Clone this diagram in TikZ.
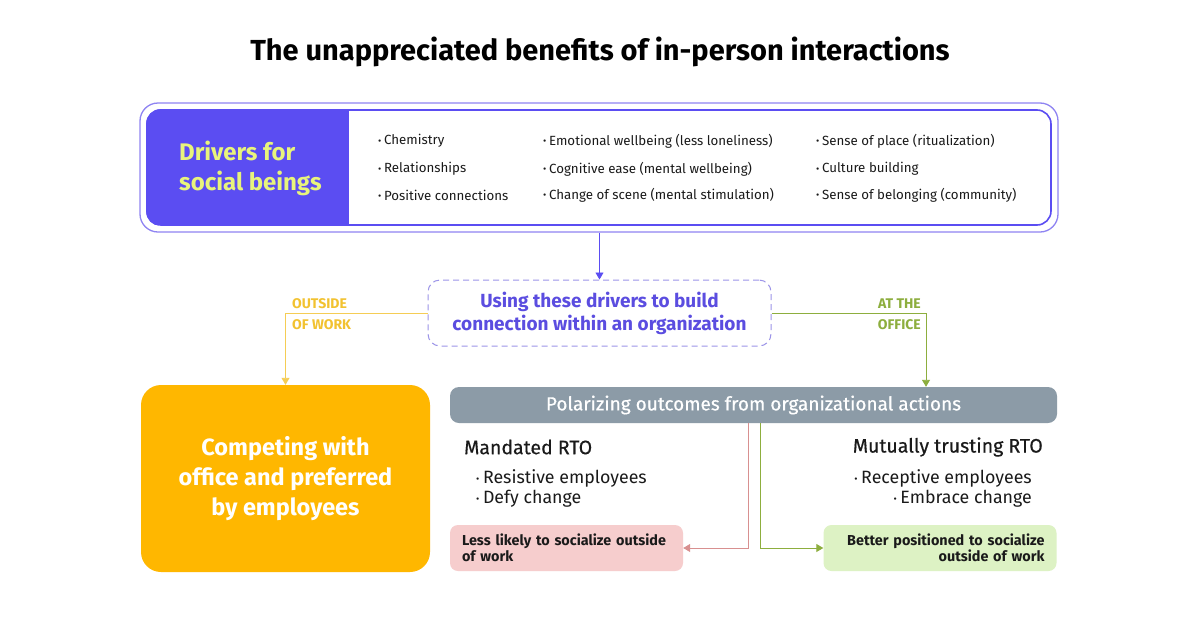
\documentclass[tikz,border=0pt]{standalone}
\usepackage{fontspec}
\setmainfont{Fira Sans}
\newfontfamily\midweight{Fira Sans}[FakeBold=0.5]
\usetikzlibrary{arrows.meta}

\definecolor{drvpurple}{HTML}{5B4DF2}
\definecolor{drvframe}{HTML}{8F84F2}
\definecolor{drvyellow}{HTML}{E8F47C}
\definecolor{usepurple}{HTML}{5B4DE0}
\definecolor{usedash}{HTML}{9C94E8}
\definecolor{owyellow}{HTML}{F2C230}
\definecolor{owline}{HTML}{F5CD55}
\definecolor{offgreen}{HTML}{8DAE3E}
\definecolor{comporange}{HTML}{FFB700}
\definecolor{polgray}{HTML}{8C9BA7}
\definecolor{lesspink}{HTML}{F6CDCD}
\definecolor{lessline}{HTML}{D89090}
\definecolor{betgreen}{HTML}{DDF2C4}
\definecolor{inktext}{HTML}{1A1A1A}

\newcommand{\itemdot}{\raisebox{0.1ex}{\fontsize{10}{10}\selectfont\textbullet}\hspace{0.2em}}

\tikzset{
  bullet/.style={anchor=west, font=\fontsize{13.3}{15}\selectfont, text=inktext, inner sep=0},
  sidelabel/.style={font=\bfseries\fontsize{14}{21}\selectfont, align=left, inner sep=0},
  rtohead/.style={font=\midweight\fontsize{19.5}{22}\selectfont, text=inktext, inner sep=0},
  rtoitem/.style={font=\fontsize{17.8}{21}\selectfont, text=inktext, inner sep=0},
  socbox/.style={rounded corners=8pt, minimum width=233pt, minimum height=46pt,
    text width=209pt, inner xsep=12pt, inner ysep=0pt,
    font=\bfseries\fontsize{14.4}{16.5}\selectfont, text=inktext},
  link/.style={line width=0.9pt, -{Triangle[length=7pt,width=8pt]}}
}

\begin{document}
\begin{tikzpicture}[x=1pt, y=-1pt]
  \useasboundingbox[fill=white] (0,0) rectangle (1200,627);

  % title
  \node[font=\bfseries\fontsize{29}{32}\selectfont, text=black] (title) at (600,52)
    {The unappreciated benefits of in-person interactions};

  % drivers panel
  \node[draw=drvframe, line width=1.3pt, rounded corners=18pt,
        minimum width=918pt, minimum height=129pt] (frame) at (599,167.5) {};
  \node[draw=drvpurple, line width=1.6pt, rounded corners=14pt,
        minimum width=904pt, minimum height=115pt] (drivers) at (599,167.5) {};
  \begin{scope}
    \clip[rounded corners=14pt] (drivers.north west) rectangle (drivers.south east);
    \fill[drvpurple] (drivers.north west) rectangle (349,225);
  \end{scope}
  \node[anchor=west, align=left, text=drvyellow, inner sep=0,
        font=\bfseries\fontsize{24}{30}\selectfont] (social) at (179,168)
    {Drivers for\\social beings};

  \node[bullet] (b11) at (378,141) {\itemdot Chemistry};
  \node[bullet] (b12) at (378,169) {\itemdot Relationships};
  \node[bullet] (b13) at (378,195) {\itemdot Positive connections};
  \node[bullet] (b21) at (543,141) {\itemdot Emotional wellbeing (less loneliness)};
  \node[bullet] (b22) at (543,169) {\itemdot Cognitive ease (mental wellbeing)};
  \node[bullet] (b23) at (543,195) {\itemdot Change of scene (mental stimulation)};
  \node[bullet] (b31) at (816,141) {\itemdot Sense of place (ritualization)};
  \node[bullet] (b32) at (816,169) {\itemdot Culture building};
  \node[bullet] (b33) at (816,195) {\itemdot Sense of belonging (community)};

  % using the drivers
  \node[draw=usedash, dashed, dash pattern=on 6pt off 4pt, line width=1pt,
        rounded corners=12pt, minimum width=343pt, minimum height=66pt,
        align=center, text=usepurple, font=\bfseries\fontsize{19}{23}\selectfont]
    (using) at (599.5,313) {Using these drivers to build\\connection within an organization};
  \draw[link, drvpurple] (frame.south -| using.north) -- (using.north);

  % outside of work
  \node[fill=comporange, rounded corners=20pt, minimum width=289pt, minimum height=187pt,
        align=center, text=white, font=\bfseries\fontsize{23.5}{30}\selectfont]
    (compete) at (285.5,478.5) {Competing with\\office and preferred\\by employees};
  \draw[link, owline] (using.west) -| (compete.north);
  \node[sidelabel, text=owyellow, anchor=west] (outside) at (292,314)
    {OUTSIDE\\OF WORK};

  % at the office
  \node[fill=polgray, rounded corners=9pt, minimum width=607pt, minimum height=36pt,
        text=white, font=\midweight\fontsize{19}{20}\selectfont]
    (outcomes) at (753.5,405) {Polarizing outcomes from organizational actions};
  \coordinate (officetap) at (926,0);
  \draw[link, offgreen] (using.east) -| (officetap |- outcomes.north);
  \node[sidelabel, text=offgreen, anchor=east, align=right] (office) at (921,314)
    {AT THE\\OFFICE};

  % mandated RTO
  \node[rtohead, anchor=west] (mandated) at (464,447) {Mandated RTO};
  \node[rtoitem, anchor=west] (resist) at (476,478) {\itemdot Resistive employees};
  \node[rtoitem, anchor=west] (defy) at (476,499) {\itemdot Defy change};
  \node[socbox, fill=lesspink, align=left] (less) at (566.5,548)
    {Less likely to socialize outside\\of work};
  \coordinate (lesstap) at (748,0);
  \draw[link, lessline] (lesstap |- outcomes.south) |- (less.east);

  % mutually trusting RTO
  \node[rtohead, anchor=east] (mutual) at (1043,447) {Mutually trusting RTO};
  \node[rtoitem, anchor=east] (recept) at (1032,478) {\itemdot Receptive employees};
  \node[rtoitem, anchor=east] (embrace) at (1032,499) {\itemdot Embrace change};
  \node[socbox, fill=betgreen, align=right] (better) at (940,548)
    {Better positioned to socialize\\outside of work};
  \coordinate (bettertap) at (760,0);
  \draw[link, offgreen] (bettertap |- outcomes.south) |- (better.west);
\end{tikzpicture}
\end{document}
